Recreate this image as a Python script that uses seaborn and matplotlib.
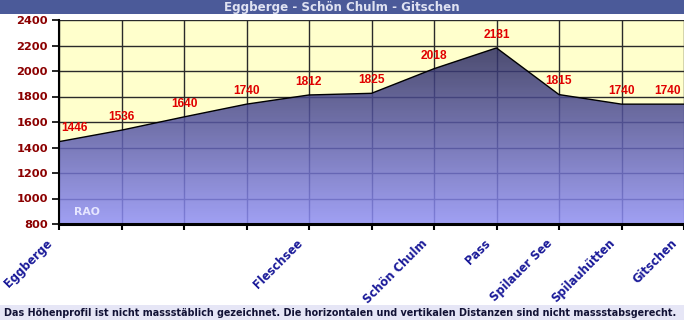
import numpy as np
import pandas as pd
import matplotlib
matplotlib.use("Agg")
import matplotlib.pyplot as plt
import seaborn as sns
from matplotlib.colors import LinearSegmentedColormap
import matplotlib.patches as mpatches

# ---------------- data ----------------
stations = ["Eggberge", "", "", "", "Fleschsee", "", "Schön Chulm", "Pass",
            "Spilauer See", "Spilauhütten", "Gitschen"]
elevations = [1446, 1536, 1640, 1740, 1812, 1825, 2018, 2181, 1815, 1740, 1740]
y_ticks = [800, 1000, 1200, 1400, 1600, 1800, 2000, 2200, 2400]
title = "Eggberge - Schön Chulm - Gitschen"
footer = ("Das Höhenprofil ist nicht massstäblich gezeichnet. Die horizontalen "
          "und vertikalen Distanzen sind nicht massstabsgerecht.")
watermark = "RAO"

df = pd.DataFrame({"pos": np.arange(len(elevations)), "elev": elevations})

sns.set_theme(style="white")
plt.rcParams['font.family'] = ['DejaVu Sans']

W, H = 684, 320
fig = plt.figure(figsize=(W / 100, H / 100), dpi=100)
fig.patch.set_facecolor("white")

# title bar
fig.patches.append(mpatches.Rectangle((0, 1 - 14 / H), 1, 14 / H, transform=fig.transFigure,
                                      facecolor="#4b5a99", edgecolor="none", zorder=0))
fig.text(342 / W, 1 - 7 / H, title, ha="center", va="center", color="#dfe2f2",
         fontsize=8.6, fontweight="bold")
# footer bar
fig.patches.append(mpatches.Rectangle((0, 0), 1, 15 / H, transform=fig.transFigure,
                                      facecolor="#e6e6f6", edgecolor="none", zorder=0))
fig.text(4 / W, 7.5 / H, footer, ha="left", va="center", color="#121235",
         fontsize=6.9, fontweight="bold")

ax = fig.add_axes([59 / W, 96 / H, 625 / W, 204 / H])
ax.set_facecolor("#ffffcc")
ax.set_xlim(0, len(elevations) - 1)
ax.set_ylim(800, 2400)

# gridlines
ax.set_axisbelow(True)
ax.grid(True, color="#2a2a2a", lw=1.0)

# gradient fill under profile
poly = ax.fill_between(df["pos"], df["elev"], 800, facecolor="none", edgecolor="none")
cmap = LinearSegmentedColormap.from_list("prof", ["#8f8ffb", "#2c2c60"])
grad = np.linspace(0, 1, 256).reshape(-1, 1)
im = ax.imshow(grad, extent=[0, len(elevations) - 1, 800, max(elevations)], origin="lower",
               aspect="auto", cmap=cmap, alpha=0.85, zorder=1, interpolation="bilinear")
im.set_clip_path(poly.get_paths()[0], transform=ax.transData)

sns.lineplot(data=df, x="pos", y="elev", ax=ax, color="black", lw=1.0, zorder=3)
ax.set_xlabel("")
ax.set_ylabel("")

# data labels
n = len(elevations)
for i, v in enumerate(elevations):
    dx = 0
    if i == 0:
        dx = 11
    elif i == n - 1:
        dx = -12
    ax.annotate(str(v), (i, v), xytext=(dx, 9.5), textcoords="offset points",
                ha="center", va="center", color="#e00000", fontsize=8.6,
                fontweight="bold", family=["Liberation Sans"], zorder=4)

ax.text(0.45, 895, watermark, ha="center", va="center", color="#e6e6ff",
        fontsize=7.8, fontweight="bold", family=["DejaVu Sans"], zorder=4)

# axes styling
ax.set_yticks(y_ticks)
ax.set_yticklabels([str(t) for t in y_ticks], color="#8b0000", fontsize=8.2,
                   fontweight="bold")
ax.set_xticks(df["pos"])
ax.set_xticklabels([])
for i, name in enumerate(stations):
    if name:
        ax.annotate(name, (i, 0), xycoords=("data", "axes fraction"),
                    xytext=(-6, -12.5), textcoords="offset points",
                    rotation=45, ha="right", va="center", rotation_mode="anchor",
                    color="#1a1a99", fontsize=8.3, fontweight="bold",
                    annotation_clip=False)
ax.tick_params(axis="y", which="major", left=True, length=5, width=1.2, color="black", pad=3)
ax.tick_params(axis="x", which="major", bottom=True, length=4, width=1.5, color="black")
for s in ["top", "right"]:
    ax.spines[s].set_visible(False)
ax.spines["left"].set_color("black")
ax.spines["left"].set_linewidth(1.5)
ax.spines["bottom"].set_color("black")
ax.spines["bottom"].set_linewidth(2.2)

fig.savefig("out.png", dpi=100)
